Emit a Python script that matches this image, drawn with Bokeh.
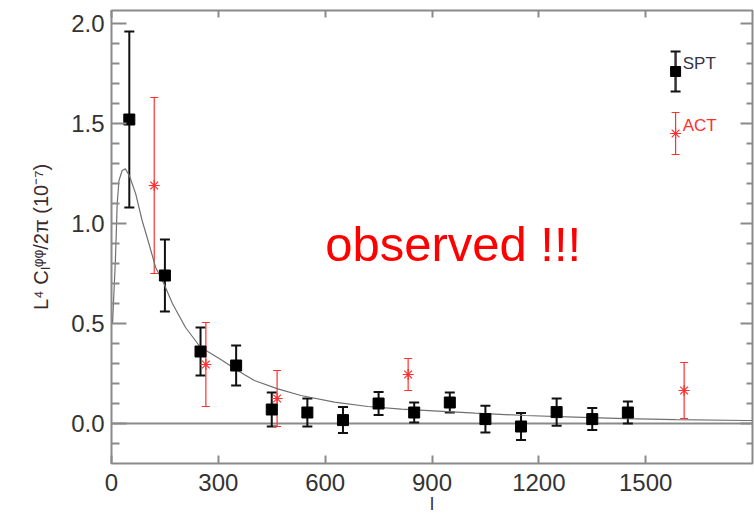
from bokeh.plotting import figure
from bokeh.models import (ColumnDataSource, Whisker, TeeHead, Span, Label, LinearAxis,
                          FixedTicker, PrintfTickFormatter, Range1d, CustomJSTickFormatter)
from bokeh.embed import file_html
from bokeh.resources import INLINE

# ---------------- data ----------------
spt_l = [50, 150, 250, 350, 450, 550, 650, 750, 850, 950, 1050, 1150, 1250, 1350, 1450]
spt_y = [1.52, 0.74, 0.36, 0.29, 0.07, 0.055, 0.017, 0.10, 0.055, 0.105, 0.022, -0.015, 0.057, 0.022, 0.055]
spt_err = [0.44, 0.18, 0.12, 0.10, 0.085, 0.07, 0.065, 0.057, 0.05, 0.05, 0.067, 0.067, 0.068, 0.055, 0.055]

act_l = [120, 265, 465, 833, 1608]
act_y = [1.19, 0.295, 0.125, 0.245, 0.165]
act_err = [0.44, 0.21, 0.14, 0.08, 0.14]

theory_l = [3, 11, 16, 21, 30, 39, 50, 68, 86, 105, 124, 147, 171, 208, 246, 270, 307, 354, 401,
            467, 532, 626, 720, 814, 917, 1021, 1161, 1302, 1443, 1584, 1781, 1800]
theory_y = [0.5, 0.82, 1.1, 1.215, 1.265, 1.273, 1.24, 1.148, 1.015, 0.90, 0.78, 0.70, 0.60, 0.48,
            0.39, 0.36, 0.32, 0.265, 0.215, 0.173, 0.14, 0.107, 0.085, 0.072, 0.062, 0.052, 0.04,
            0.032, 0.024, 0.019, 0.015, 0.015]

legend_l = [1584]
legend_spt_y = [1.76]
legend_spt_err = [0.10]
legend_act_y = [1.45]
legend_act_err = [0.105]

x_ticks = [0, 300, 600, 900, 1200, 1500]
y_ticks = [0.0, 0.5, 1.0, 1.5, 2.0]
y_minor = [-0.1, 0.1, 0.2, 0.3, 0.4, 0.6, 0.7, 0.8, 0.9, 1.1, 1.2, 1.3, 1.4, 1.6, 1.7, 1.8, 1.9]

FONT = "Liberation Sans"
FRAME = "#8a8a8a"
RED = "#ff3030"
TXT = "#333333"

p = figure(width=754, height=520, output_backend="svg", toolbar_location=None,
           x_range=Range1d(0, 1800), y_range=Range1d(-0.2, 2.065),
           min_border_left=111, min_border_right=2, min_border_top=10, min_border_bottom=57)
p.grid.visible = False
p.outline_line_color = FRAME
p.outline_line_width = 2
p.background_fill_color = "white"
p.border_fill_color = "white"

# bottom axis
xa = p.xaxis[0]
xa.ticker = FixedTicker(ticks=x_ticks)
xa.axis_line_color = None
xa.major_tick_in = 8
xa.major_tick_out = 0
xa.major_tick_line_color = FRAME
xa.major_tick_line_width = 2
xa.minor_tick_line_color = None
xa.major_label_text_font = FONT
xa.major_label_text_font_size = "24px"
xa.major_label_text_color = TXT
xa.major_label_standoff = 10
xa.axis_label = "l"
xa.axis_label_text_font = FONT
xa.axis_label_text_font_style = "normal"
xa.axis_label_text_font_size = "18px"
xa.axis_label_text_color = "#3a2a2e"
xa.axis_label_standoff = 0

# left axis
ya = p.yaxis[0]
ya.ticker = FixedTicker(ticks=y_ticks, minor_ticks=y_minor)
ya.formatter = PrintfTickFormatter(format="%.1f")
ya.axis_line_color = None
ya.major_tick_in = 15
ya.major_tick_out = 0
ya.minor_tick_in = 8
ya.minor_tick_out = 0
ya.major_tick_line_color = FRAME
ya.minor_tick_line_color = FRAME
ya.major_tick_line_width = 2
ya.minor_tick_line_width = 2
ya.major_label_text_font = FONT
ya.major_label_text_font_size = "24px"
ya.major_label_text_color = TXT
ya.major_label_standoff = 7
ya.axis_label = "L⁴ Cₗᵠᵠ/2π (10⁻⁷)"
ya.axis_label_text_font = FONT
ya.axis_label_text_font_style = "normal"
ya.axis_label_text_font_size = "20px"
ya.axis_label_text_color = "#3a2a2e"
ya.axis_label_standoff = 16

# top and right tick-only axes (no labels)
blank = CustomJSTickFormatter(code="return ''")
top = LinearAxis(ticker=FixedTicker(ticks=x_ticks), formatter=blank,
                 major_label_text_font_size="8px",
                 major_label_standoff=0, major_tick_in=7, major_tick_out=0,
                 major_tick_line_color=FRAME, major_tick_line_width=2,
                 minor_tick_line_color=None, axis_line_color=None)
p.add_layout(top, "above")
right = LinearAxis(ticker=FixedTicker(ticks=y_ticks, minor_ticks=y_minor), formatter=blank,
                   major_label_text_font_size="8px", major_label_standoff=0,
                   major_tick_in=12, major_tick_out=0, minor_tick_in=6, minor_tick_out=0,
                   major_tick_line_color=FRAME, minor_tick_line_color=FRAME,
                   major_tick_line_width=2, minor_tick_line_width=2, axis_line_color=None)
p.add_layout(right, "right")

# zero line
p.add_layout(Span(location=0, dimension="width", line_color="#8a8a8a", line_width=2, level="underlay"))

# theory curve
p.line(theory_l, theory_y, line_color="#707070", line_width=1.2)

# SPT
spt = ColumnDataSource(dict(x=spt_l, y=spt_y,
                            lo=[a - b for a, b in zip(spt_y, spt_err)],
                            hi=[a + b for a, b in zip(spt_y, spt_err)]))
p.add_layout(Whisker(source=spt, base="x", upper="hi", lower="lo", dimension="height",
                     line_color="#111111", line_width=2,
                     upper_head=TeeHead(size=10, line_color="#111111", line_width=2),
                     lower_head=TeeHead(size=10, line_color="#111111", line_width=2)))
p.scatter("x", "y", source=spt, marker="square", size=11, fill_color="black", line_color="black")

# ACT
act = ColumnDataSource(dict(x=act_l, y=act_y,
                            lo=[a - b for a, b in zip(act_y, act_err)],
                            hi=[a + b for a, b in zip(act_y, act_err)]))
p.add_layout(Whisker(source=act, base="x", upper="hi", lower="lo", dimension="height",
                     line_color=RED, line_width=1.2,
                     upper_head=TeeHead(size=8, line_color=RED, line_width=1.2),
                     lower_head=TeeHead(size=8, line_color=RED, line_width=1.2)))
p.scatter("x", "y", source=act, marker="asterisk", size=11, line_color=RED, line_width=1.2)

# legend (drawn like the reference)
lspt = ColumnDataSource(dict(x=legend_l, y=legend_spt_y,
                             lo=[a - b for a, b in zip(legend_spt_y, legend_spt_err)],
                             hi=[a + b for a, b in zip(legend_spt_y, legend_spt_err)]))
p.add_layout(Whisker(source=lspt, base="x", upper="hi", lower="lo", dimension="height",
                     line_color="#333333", line_width=2.5,
                     upper_head=TeeHead(size=10, line_color="#111111", line_width=2),
                     lower_head=TeeHead(size=10, line_color="#111111", line_width=2)))
p.scatter("x", "y", source=lspt, marker="square", size=10, fill_color="black", line_color="black")
lact = ColumnDataSource(dict(x=legend_l, y=legend_act_y,
                             lo=[a - b for a, b in zip(legend_act_y, legend_act_err)],
                             hi=[a + b for a, b in zip(legend_act_y, legend_act_err)]))
p.add_layout(Whisker(source=lact, base="x", upper="hi", lower="lo", dimension="height",
                     line_color=RED, line_width=1.2,
                     upper_head=TeeHead(size=8, line_color=RED, line_width=1.2),
                     lower_head=TeeHead(size=8, line_color=RED, line_width=1.2)))
p.scatter("x", "y", source=lact, marker="asterisk", size=11, line_color=RED, line_width=1.2)

p.add_layout(Label(x=1604, y=1.80, text="SPT", text_font=FONT, text_font_size="17px",
                   text_color="#333344", text_baseline="middle"))
p.add_layout(Label(x=1604, y=1.49, text="ACT", text_font=FONT, text_font_size="17px",
                   text_color=RED, text_baseline="middle"))

# annotation
p.add_layout(Label(x=600, y=0.9, text="observed !!!", text_font=FONT, text_font_size="49px",
                   text_color="#ff0000", text_baseline="alphabetic"))

open("out.html", "w").write(file_html(p, INLINE))
